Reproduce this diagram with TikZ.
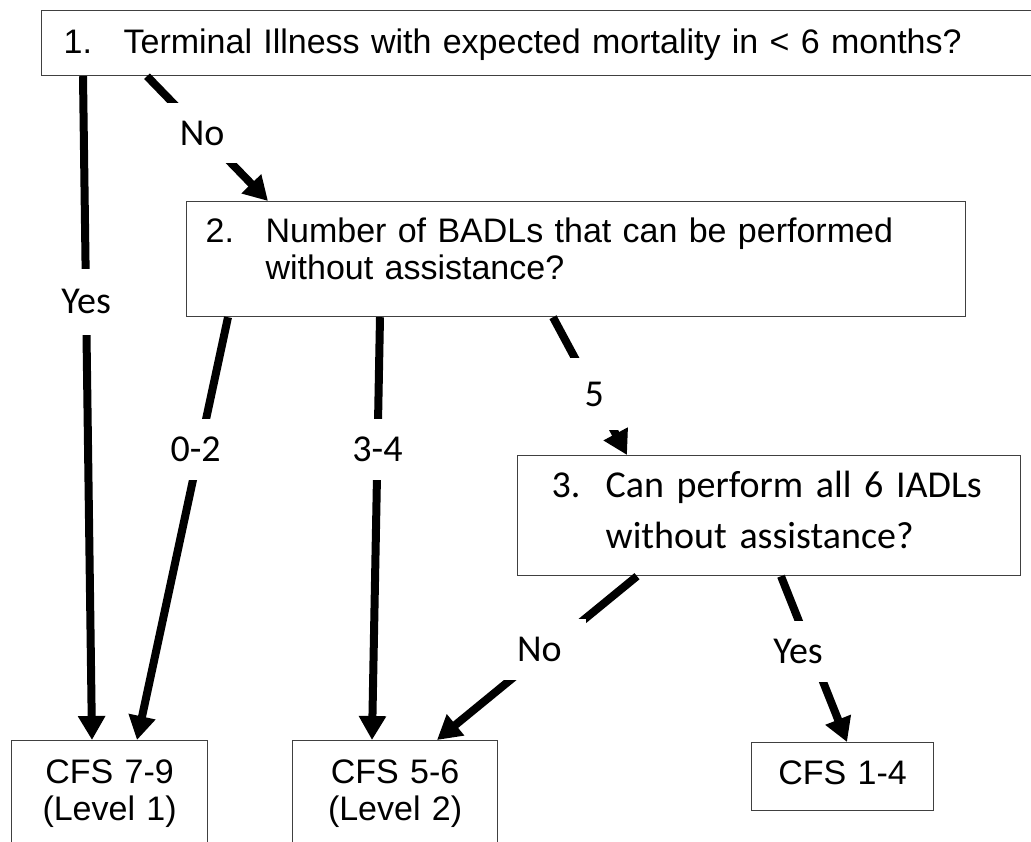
\documentclass[tikz,border=0pt]{standalone}
\usepackage{fontspec}
\setmainfont{Liberation Sans}
\newfontfamily\calibri{Carlito}
\usetikzlibrary{arrows.meta}

\begin{document}
\begin{tikzpicture}[
x=1pt, y=-1pt,
every node/.style={font=\fontsize{34}{37}\selectfont},
box/.style={draw=black!75, line width=1.2pt, anchor=north west, inner ysep=0pt, align=left},
cfs/.style={box, align=center, inner xsep=0pt},
arr/.style={line width=8pt, -{Triangle[length=24pt,width=26pt]}},
lbl/.style={fill=white, inner xsep=18pt, inner ysep=18pt, font=\calibri\fontsize{38}{40}\selectfont}
]
\useasboundingbox (0,0) rectangle (1031,841);

\node[box, inner xsep=22pt, text width=960pt, text height=43pt, text depth=22pt] (ill) at (41,10)
	{\makebox[60pt][l]{1.}Terminal Illness with expected mortality in < 6 months?};
\node[box, inner xsep=19pt, text width=741pt, text height=41pt, text depth=74pt] (badl) at (186,201)
	{\makebox[60pt][l]{2.}Number of BADLs that can be performed\\\hspace*{60pt}without assistance?};
\node[box, inner xsep=34pt, text width=435pt, text height=42pt, text depth=78pt, font=\calibri\fontsize{38}{51}\selectfont] (iadl) at (517,455)
	{\makebox[54pt][l]{3.}Can perform all 6 IADLs\\\hspace*{54pt}without assistance?};

\node[cfs, text width=196pt, text height=43pt, text depth=77pt] (lvl1) at (11,740) {CFS 7-9\\(Level 1)};
\node[cfs, text width=205pt, text height=43pt, text depth=77pt] (lvl2) at (292,740) {CFS 5-6\\(Level 2)};
\node[cfs, text width=182pt, text height=42pt, text depth=26pt] (cfs14) at (751,742) {CFS 1-4};

\draw[arr] ([xshift=42pt]ill.south west) -- node[lbl, pos=0.34, inner ysep=21pt] (yes1) {Yes} ([xshift=81pt]lvl1.north west);
\draw[arr] ([xshift=106pt]ill.south west) -- node[lbl, pos=0.456] (no1) {No} ([xshift=82pt]badl.north west);
\draw[arr] ([xshift=42pt]badl.south west) -- node[lbl, pos=0.312, xshift=-4pt] (few) {0-2} ([xshift=126pt]lvl1.north west);
\draw[arr] ([xshift=194pt]badl.south west) -- node[lbl, pos=0.312] (some) {3-4} ([xshift=80pt]lvl2.north west);
\draw[arr] ([xshift=367pt]badl.south west) -- node[lbl, pos=0.557, inner ysep=24pt] (all) {5} ([xshift=110pt]iadl.north west);
\draw[arr] ([xshift=120pt]iadl.south west) -- node[lbl, pos=0.448, xshift=-8pt, inner xsep=24pt] (no2) {No} ([xshift=145pt]lvl2.north west);
\draw[arr] ([xshift=264pt]iadl.south west) -- node[lbl, pos=0.455, xshift=-13pt] (yes2) {Yes} ([xshift=96pt]cfs14.north west);
\end{tikzpicture}
\end{document}
